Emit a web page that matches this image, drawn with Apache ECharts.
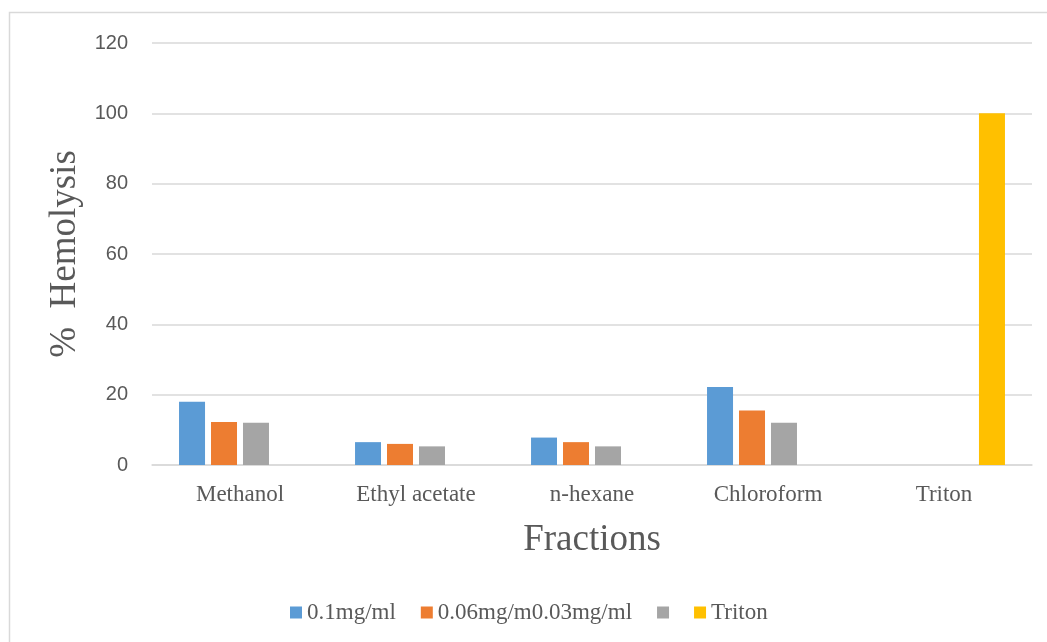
<!DOCTYPE html>
<html>
<head>
<meta charset="utf-8">
<title>% Hemolysis by fraction</title>
<script src="https://cdn.jsdelivr.net/npm/echarts@6/dist/echarts.min.js"></script>
<style>
  html, body { margin: 0; padding: 0; background: #ffffff; }
  #chart { width: 1047px; height: 642px; }
</style>
</head>
<body>
<div id="chart"></div>
<script>
// Fractions tested
const categories = ['Methanol', 'Ethyl acetate', 'n-hexane', 'Chloroform', 'Triton'];

// % hemolysis per concentration (null where a series has no bar)
const seriesNames = ['0.1mg/ml', '0.06mg/ml', '0.03mg/ml', 'Triton'];
const conc01 = [18, 6.5, 7.8, 22.2, null];
const conc006 = [12.2, 6, 6.5, 15.5, null];
const conc003 = [12, 5.3, 5.3, 12, null];
const triton = [null, null, null, null, 100];

// Text printed next to each legend swatch
const legendLabels = ['0.1mg/ml', '0.06mg/m0.03mg/ml', '', 'Triton'];

const colors = ['#5B9BD5', '#ED7D31', '#A5A5A5', '#FFC000'];
const textColor = '#595959';
const gridColor = '#D9D9D9';
const serif = '"Liberation Serif", "Times New Roman", serif';

const chart = echarts.init(document.getElementById('chart'), null, { renderer: 'canvas' });

const values = [conc01, conc006, conc003, triton];

chart.setOption({
  animation: false,
  backgroundColor: '#ffffff',
  color: colors,
  graphic: [{
    type: 'rect',
    shape: { x: 9.5, y: 12.5, width: 1200, height: 800 },
    style: { fill: 'none', stroke: gridColor, lineWidth: 1.5 },
    silent: true,
    z: -1
  }],
  grid: { left: 152, right: 15, top: 43, bottom: 177 },
  legend: {
    left: 290,
    top: 601,
    padding: 0,
    itemWidth: 12,
    itemHeight: 12,
    itemGap: 25,
    icon: 'rect',
    data: seriesNames,
    formatter: function (name) {
      return legendLabels[seriesNames.indexOf(name)];
    },
    textStyle: { fontFamily: serif, fontSize: 23, color: textColor }
  },
  xAxis: {
    type: 'category',
    data: categories,
    name: 'Fractions',
    nameLocation: 'middle',
    nameGap: 57,
    nameTextStyle: { fontFamily: serif, fontSize: 37, color: textColor },
    axisLine: { show: true, lineStyle: { color: gridColor, width: 1.5 } },
    axisTick: { show: false },
    axisLabel: { fontFamily: serif, fontSize: 23, color: textColor, margin: 18 }
  },
  yAxis: {
    type: 'value',
    min: 0,
    max: 120,
    interval: 20,
    name: '%  Hemolysis',
    nameLocation: 'middle',
    nameGap: 63,
    nameTextStyle: { fontFamily: serif, fontSize: 37, color: textColor },
    axisLine: { show: false },
    axisTick: { show: false },
    axisLabel: { fontFamily: '"Liberation Sans", Arial, sans-serif', fontSize: 20, color: textColor, margin: 24 },
    splitLine: { lineStyle: { color: gridColor, width: 1.5 } }
  },
  series: seriesNames.map(function (name, i) {
    return {
      name: name,
      type: 'bar',
      data: values[i],
      barWidth: 26,
      barGap: '23%',
      itemStyle: { color: colors[i] }
    };
  })
});
</script>
</body>
</html>
